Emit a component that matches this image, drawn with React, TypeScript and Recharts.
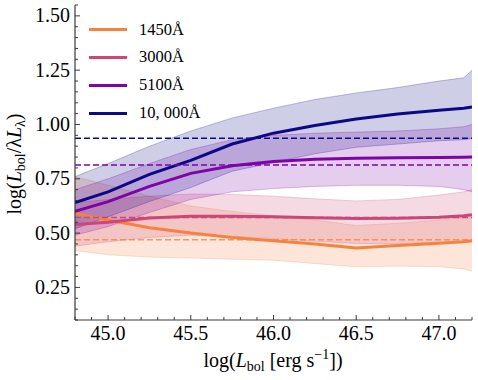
import React from 'react';
import { ComposedChart, Area, Line, XAxis, YAxis, ReferenceLine, Legend } from 'recharts';

// log(L_bol) sample points
const lbol = [44.8, 45.0, 45.25, 45.5, 45.75, 46.0, 46.25, 46.5, 46.75, 47.0, 47.15, 47.2];

// 1450 Å
const med1450 = [0.59, 0.56, 0.525, 0.5, 0.48, 0.465, 0.45, 0.432, 0.443, 0.453, 0.46, 0.465];
const lo1450 = [0.42, 0.4, 0.39, 0.385, 0.38, 0.375, 0.36, 0.345, 0.348, 0.345, 0.335, 0.325];
const hi1450 = [0.76, 0.72, 0.67, 0.625, 0.6, 0.58, 0.56, 0.535, 0.545, 0.56, 0.572, 0.58];
// 3000 Å
const med3000 = [0.54, 0.55, 0.57, 0.578, 0.578, 0.575, 0.571, 0.567, 0.568, 0.573, 0.58, 0.585];
const lo3000 = [0.44, 0.46, 0.48, 0.49, 0.485, 0.475, 0.462, 0.452, 0.452, 0.455, 0.458, 0.46];
const hi3000 = [0.64, 0.655, 0.67, 0.68, 0.678, 0.67, 0.658, 0.648, 0.655, 0.675, 0.69, 0.7];
// 5100 Å
const med5100 = [0.6, 0.645, 0.715, 0.775, 0.81, 0.83, 0.84, 0.845, 0.847, 0.848, 0.849, 0.85];
const lo5100 = [0.49, 0.53, 0.595, 0.655, 0.69, 0.705, 0.715, 0.72, 0.72, 0.715, 0.7, 0.69];
const hi5100 = [0.7, 0.75, 0.82, 0.885, 0.93, 0.95, 0.96, 0.965, 0.97, 0.98, 0.99, 1.0];
// 10,000 Å
const med10000 = [0.64, 0.69, 0.77, 0.835, 0.91, 0.96, 0.995, 1.025, 1.048, 1.065, 1.075, 1.08];
const lo10000 = [0.52, 0.575, 0.645, 0.71, 0.785, 0.825, 0.865, 0.895, 0.91, 0.925, 0.93, 0.935];
const hi10000 = [0.76, 0.82, 0.9, 0.97, 1.03, 1.075, 1.115, 1.145, 1.17, 1.2, 1.215, 1.25];

// constant reference values (dashed lines)
const refValues = [0.469, 0.572, 0.813, 0.937];

const seriesNames = ['1450Å', '3000Å', '5100Å', '10, 000Å'];
const seriesKeys = ['w1450', 'w3000', 'w5100', 'w10000'];
const colors = ['#f5823f', '#cc4778', '#7e03a8', '#0d0887'];

const xTicks = [44.8, 44.9, 45.0, 45.1, 45.2, 45.3, 45.4, 45.5, 45.6, 45.7, 45.8, 45.9, 46.0, 46.1, 46.2, 46.3, 46.4, 46.5, 46.6, 46.7, 46.8, 46.9, 47.0, 47.1, 47.2];
const yTicks = [0.1, 0.15, 0.2, 0.25, 0.3, 0.35, 0.4, 0.45, 0.5, 0.55, 0.6, 0.65, 0.7, 0.75, 0.8, 0.85, 0.9, 0.95, 1.0, 1.05, 1.1, 1.15, 1.2, 1.25, 1.3, 1.35, 1.4, 1.45, 1.5, 1.55];

const meds = [med1450, med3000, med5100, med10000];
const los = [lo1450, lo3000, lo5100, lo10000];
const his = [hi1450, hi3000, hi5100, hi10000];

const data = lbol.map((x, i) => {
  const row: any = { x };
  seriesKeys.forEach((k, s) => {
    row[k] = meds[s][i];
    row[k + 'band'] = [los[s][i], his[s][i]];
  });
  return row;
});

const FONT = '"Liberation Serif", "DejaVu Serif", serif';
const FRAME = '#3a3a3a';

const isMajorX = (v: number) => Math.abs(v * 2 - Math.round(v * 2)) < 1e-6;
const isMajorY = (v: number) => Math.abs(v * 4 - Math.round(v * 4)) < 1e-6;

const XTickBottom = (props: any) => {
  const { x, y, payload } = props;
  const v = payload.value;
  const major = isMajorX(v);
  return (
    <g>
      <line x1={x} x2={x} y1={y} y2={y - (major ? 5 : 3)} stroke={FRAME} strokeWidth={1} />
      {major && (
        <text x={x} y={y + 20} textAnchor="middle" fontSize={20} fontFamily={FONT} fill="#000">
          {v.toFixed(1)}
        </text>
      )}
    </g>
  );
};

const XTickTop = (props: any) => {
  const { x, y, payload } = props;
  const major = isMajorX(payload.value);
  return <line x1={x} x2={x} y1={y} y2={y + (major ? 5 : 3)} stroke={FRAME} strokeWidth={1} />;
};

const YTickLeft = (props: any) => {
  const { x, y, payload } = props;
  const v = payload.value;
  const major = isMajorY(v);
  return (
    <g>
      <line x1={x} x2={x + (major ? 5 : 3)} y1={y} y2={y} stroke={FRAME} strokeWidth={1} />
      {major && (
        <text x={x - 5} y={y + 6.5} textAnchor="end" fontSize={20} fontFamily={FONT} fill="#000">
          {v.toFixed(2)}
        </text>
      )}
    </g>
  );
};

const YTickRight = (props: any) => {
  const { x, y, payload } = props;
  const major = isMajorY(payload.value);
  return <line x1={x} x2={x - (major ? 5 : 3)} y1={y} y2={y} stroke={FRAME} strokeWidth={1} />;
};

const XLabel = () => (
  <text x={273} y={367} textAnchor="middle" fontSize={20} fontFamily={FONT} fill="#000">
    <tspan>log(</tspan>
    <tspan fontStyle="italic">L</tspan>
    <tspan fontSize={14} dy={4}>bol</tspan>
    <tspan dy={-4}> [erg s</tspan>
    <tspan fontSize={14} dy={-8}>−1</tspan>
    <tspan dy={8}>])</tspan>
  </text>
);

const YLabel = () => (
  <text
    x={0}
    y={0}
    transform="translate(21,164) rotate(-90)"
    textAnchor="middle"
    fontSize={20}
    fontFamily={FONT}
    fill="#000"
  >
    <tspan>log(</tspan>
    <tspan fontStyle="italic">L</tspan>
    <tspan fontSize={14} dy={4}>bol</tspan>
    <tspan dy={-4}>/λ</tspan>
    <tspan fontStyle="italic">L</tspan>
    <tspan fontSize={14} dy={4}>λ</tspan>
    <tspan dy={-4}>)</tspan>
  </text>
);

const LegendBox = () => (
  <div style={{ fontFamily: FONT, fontSize: 16.5, color: '#000' }}>
    {seriesNames.map((n, i) => (
      <div key={n} style={{ display: 'flex', alignItems: 'center', height: 27.8 }}>
        <div style={{ width: 38, height: 3, background: colors[i] }} />
        <span style={{ marginLeft: 12, lineHeight: 1 }}>{n}</span>
      </div>
    ))}
  </div>
);

export default function App() {
  return (
    <div style={{ position: 'absolute', left: 0, top: 0, width: 478, height: 380, background: '#fff' }}>
      <ComposedChart width={478} height={380} data={data} margin={{ top: 5, right: 6, left: 0, bottom: 0 }}>
        <XAxis
          dataKey="x"
          type="number"
          domain={[44.8, 47.2]}
          allowDataOverflow
          ticks={xTicks}
          interval={0}
          tickSize={0}
          tickMargin={0}
          tickLine={false}
          tick={<XTickBottom />}
          axisLine={{ stroke: FRAME, strokeWidth: 1.2 }}
          height={60}
          label={<XLabel />}
        />
        <XAxis
          xAxisId="t"
          dataKey="x"
          orientation="top"
          type="number"
          domain={[44.8, 47.2]}
          allowDataOverflow
          ticks={xTicks}
          interval={0}
          tickSize={0}
          tickMargin={0}
          tickLine={false}
          tick={<XTickTop />}
          axisLine={{ stroke: FRAME, strokeWidth: 1.2 }}
          height={0}
        />
        <YAxis
          type="number"
          domain={[0.1, 1.55]}
          allowDataOverflow
          ticks={yTicks}
          interval={0}
          tickSize={0}
          tickMargin={0}
          tickLine={false}
          tick={<YTickLeft />}
          axisLine={{ stroke: FRAME, strokeWidth: 1.2 }}
          width={75}
          label={<YLabel />}
        />
        <YAxis
          yAxisId="r"
          orientation="right"
          type="number"
          domain={[0.1, 1.55]}
          allowDataOverflow
          ticks={yTicks}
          interval={0}
          tickSize={0}
          tickMargin={0}
          tickLine={false}
          tick={<YTickRight />}
          axisLine={{ stroke: FRAME, strokeWidth: 1.2 }}
          width={0}
        />
        {seriesKeys.map((k, i) => (
          <Area
            key={k + 'band'}
            type="linear"
            dataKey={k + 'band'}
            fill={colors[i]}
            fillOpacity={0.2}
            stroke={colors[i]}
            strokeOpacity={0.25}
            strokeWidth={1}
            isAnimationActive={false}
            legendType="none"
          />
        ))}
        {seriesKeys.map((k, i) => (
          <Line
            key={k}
            type="linear"
            dataKey={k}
            stroke={colors[i]}
            strokeWidth={3}
            dot={false}
            activeDot={false}
            isAnimationActive={false}
          />
        ))}
        {refValues.map((v, i) => (
          <ReferenceLine
            key={'ref' + i}
            y={v}
            stroke={colors[i]}
            strokeOpacity={i === 0 ? 0.8 : 1}
            strokeWidth={1.5}
            strokeDasharray="6 3"
          />
        ))}
        <Legend
          layout="vertical"
          align="center"
          verticalAlign="middle"
          content={<LegendBox />}
          wrapperStyle={{ position: 'absolute', left: 89, top: 16, width: 'auto', height: 'auto' }}
        />
      </ComposedChart>
    </div>
  );
}
